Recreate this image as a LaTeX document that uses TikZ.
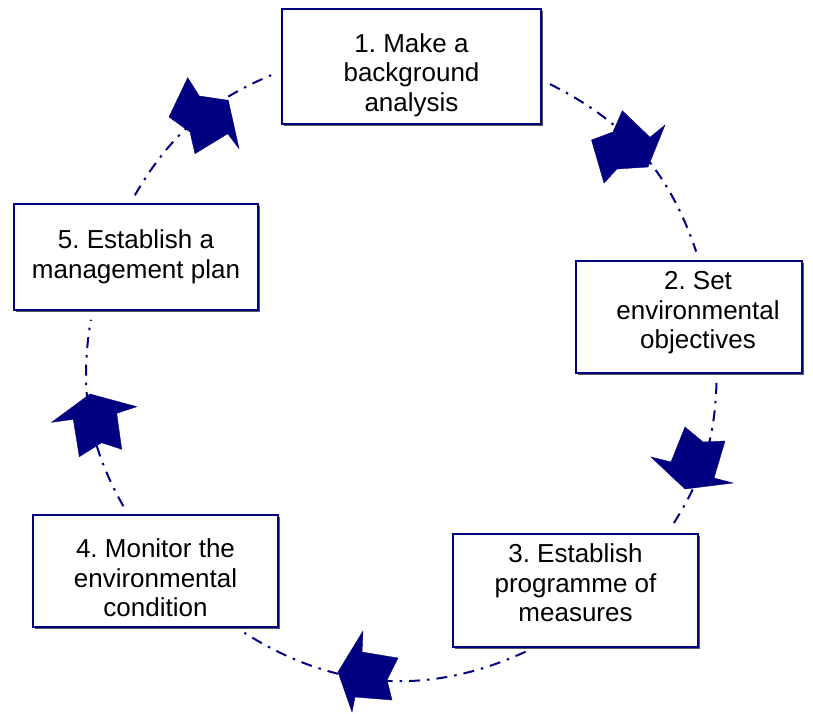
\documentclass[tikz,border=0pt]{standalone}
\usepackage{fontspec}
\setmainfont{Liberation Sans}
\usetikzlibrary{shadows}
\definecolor{navy}{RGB}{0,0,128}
\begin{document}
\frenchspacing
\begin{tikzpicture}[x=1pt,y=1pt,
  stage/.style={draw=navy, line width=1.8pt, fill=white, inner sep=0pt,
    drop shadow={shadow xshift=1.6pt, shadow yshift=-1.6pt, fill=black!65, opacity=1}},
  stagetext/.style={inner sep=0pt, align=center,
    font=\fontsize{26}{29.5}\selectfont},
  cycleline/.style={draw=navy, line width=2pt,
    dash pattern=on 11pt off 7pt on 2.5pt off 7pt,
    shorten <=9pt, shorten >=9pt},
  pointer/.style={fill=navy, draw=navy, line width=0.4pt, line join=miter}]
\useasboundingbox (0,0) rectangle (813,713);

% the five stages of the cycle
\node[stage, minimum width=259pt, minimum height=115pt] (s1) at (411.5,646.5) {};
\node[stage, minimum width=226pt, minimum height=112pt] (s2) at (689,396) {};
\node[stage, minimum width=245pt, minimum height=113pt] (s3) at (575.5,122.5) {};
\node[stage, minimum width=245pt, minimum height=112pt] (s4) at (155.5,142) {};
\node[stage, minimum width=244pt, minimum height=106pt] (s5) at (136,456) {};

% their captions
\node[stagetext, yshift=-8.5pt] (t1) at (s1) {1. Make a\\background\\analysis};
\node[stagetext, xshift=9pt, yshift=4pt] (t2) at (s2) {2. Set\\environmental\\objectives};
\node[stagetext, yshift=7.5pt] (t3) at (s3) {3. Establish\\programme of\\measures};
\node[stagetext, yshift=-7pt] (t4) at (s4) {4. Monitor the\\environmental\\condition};
\node[stagetext] (t5) at (s5) {5. Establish a\\management plan};

% dash-dotted arcs running clockwise round the cycle
\draw[cycleline] (s1.-6)     to[bend left=22.5] (s2.80);
\draw[cycleline] (s2.-64)    to[bend left=15.6] (s3.32);
\draw[cycleline] (s3.-126)   to[bend left=28.6] (s4.-35.5);
\draw[cycleline] (s4.116)    to[bend left=19.4] (s5.-129.5);
\draw[cycleline] (s5.96)     to[bend left=18.7] (s1.182);

% block arrows sitting on the arcs
\filldraw[pointer] (187.7,635.3) -- (199.3,617) -- (228.3,612.7) -- (239,564.3)
  -- (227.7,579.3) -- (195,559.3) -- (190,581) -- (169,596) -- cycle;
\filldraw[pointer] (622.3,602.3) -- (650,575.7) -- (665,588) -- (648,546)
  -- (617,544) -- (604,530) -- (591.5,573) -- (613,581) -- cycle;
\filldraw[pointer] (685,286) -- (703,271) -- (725,272) -- (714,235)
  -- (733,230) -- (685,224) -- (651,256) -- (671,251) -- cycle;
\filldraw[pointer] (363,82) -- (362,61) -- (398,55) -- (387,33)
  -- (392,13) -- (355,16) -- (352,1) -- (338,41) -- cycle;
\filldraw[pointer] (90,319) -- (136.7,306.3) -- (116.7,299.7) -- (121.7,263.7)
  -- (101.7,270.3) -- (79.3,256.3) -- (73.3,293.7) -- (51.7,290.7) -- cycle;
\end{tikzpicture}
\end{document}
